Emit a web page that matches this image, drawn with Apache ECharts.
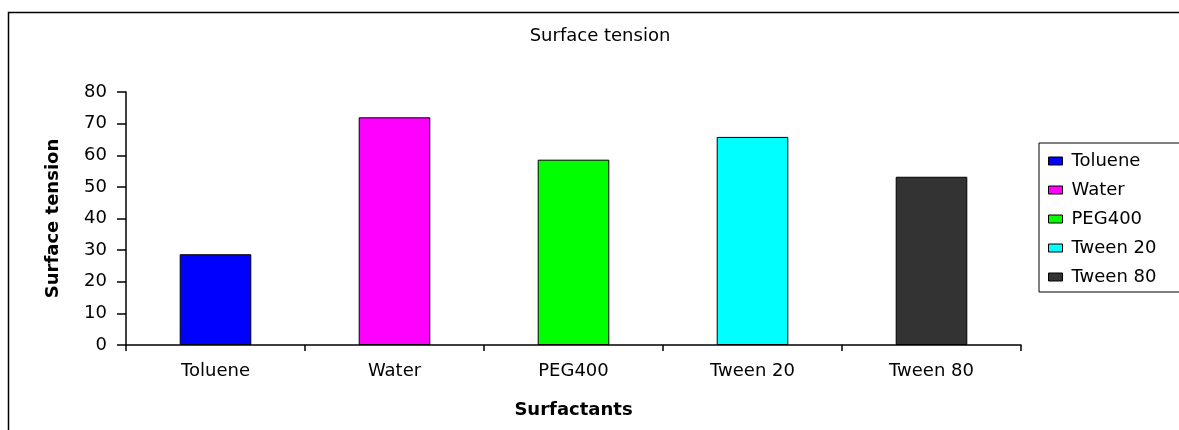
<!DOCTYPE html>
<html>
<head>
<meta charset="utf-8">
<script src="https://cdn.jsdelivr.net/npm/echarts@6/dist/echarts.min.js"></script>
<style>html,body{margin:0;padding:0;background:#fff}#c{width:1179px;height:430px}</style>
</head>
<body>
<div id="c"></div>
<script>
const categories = ['Toluene', 'Water', 'PEG400', 'Tween 20', 'Tween 80'];
const seriesNames = ['Toluene', 'Water', 'PEG400', 'Tween 20', 'Tween 80'];
const values = [28.7, 72.0, 58.6, 65.8, 53.2];
const colors = ['#0000ff', '#ff00ff', '#00ff00', '#00ffff', '#333333'];
const yTicks = [0, 10, 20, 30, 40, 50, 60, 70, 80];

const chart = echarts.init(document.getElementById('c'));
const font = '"DejaVu Sans", sans-serif';
const series = seriesNames.map((name, i) => ({
  name: name,
  type: 'bar',
  stack: 'all',
  barWidth: '40%',
  data: categories.map((c, j) => j === i ? values[i] : '-'),
  itemStyle: { color: colors[i], borderColor: '#000', borderWidth: 1 }
}));
chart.setOption({
  animation: false,
  textStyle: { fontFamily: font },
  title: {
    text: 'Surface tension', left: 595, top: 22, textAlign: 'center',
    textStyle: { fontSize: 18, fontWeight: 'normal', color: '#000', fontFamily: font }
  },
  graphic: [{
    type: 'rect', shape: { x: 8.5, y: 12.5, width: 1200, height: 500 },
    style: { fill: 'none', stroke: '#000', lineWidth: 1.5 }, silent: true, z: -1
  }],
  legend: {
    orient: 'vertical', left: 1039, top: 143,
    data: seriesNames,
    icon: 'rect', itemWidth: 14, itemHeight: 8, itemGap: 11,
    padding: [9, 24, 6, 9],
    borderColor: '#000', borderWidth: 1,
    itemStyle: { borderColor: '#000', borderWidth: 1 },
    textStyle: { fontSize: 18, color: '#000', fontFamily: font, padding: [0, 0, 0, 4] }
  },
  grid: { left: 126, right: 158, top: 92, bottom: 85, containLabel: false },
  xAxis: {
    type: 'category', data: categories,
    name: 'Surfactants', nameLocation: 'middle', nameGap: 56,
    nameTextStyle: { fontSize: 18, fontWeight: 'bold', color: '#000', fontFamily: font },
    axisLine: { lineStyle: { color: '#000', width: 1.5 } },
    axisTick: { show: true, alignWithLabel: false, length: 6, lineStyle: { color: '#000', width: 1.5 } },
    axisLabel: { fontSize: 18, color: '#000', margin: 17, fontFamily: font }
  },
  yAxis: {
    type: 'value', min: 0, max: 80, interval: 10,
    name: 'Surface tension', nameLocation: 'middle', nameGap: 64, nameRotate: 90,
    nameTextStyle: { fontSize: 18, fontWeight: 'bold', color: '#000', fontFamily: font },
    splitLine: { show: false },
    axisLine: { show: true, lineStyle: { color: '#000', width: 1.5 } },
    axisTick: { show: true, length: 9, lineStyle: { color: '#000', width: 1.5 } },
    axisLabel: { fontSize: 18, color: '#000', margin: 19, fontFamily: font,
      formatter: v => yTicks.includes(v) ? String(v) : '' }
  },
  series: series
});
</script>
</body>
</html>
